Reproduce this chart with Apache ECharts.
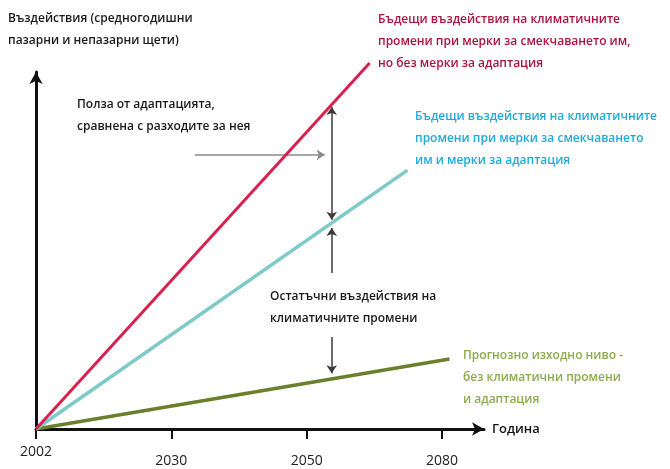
<!DOCTYPE html>
<html>
<head>
<meta charset="utf-8">
<script src="https://cdn.jsdelivr.net/npm/echarts@6/dist/echarts.min.js"></script>
<style>
  html, body { margin: 0; padding: 0; background: #fff; }
  #chart { width: 670px; height: 469px; }
</style>
</head>
<body>
<div id="chart"></div>
<script>
// ticks are equally spaced on the picture, so x is the tick index
var tickPos = [0, 1, 2, 3];
var tickYears = ['2002', '2030', '2050', '2080'];

// lines from the origin (x in tick steps, y in relative units 0..100)
var noAdaptation = [[0, 0], [2.465, 102.5]];
var withAdaptation = [[0, 0], [2.745, 72.5]];
var baseline = [[0, 0], [3.055, 19.6]];

// annotation arrows: [x1, y1, x2, y2]
var benefitArrow = [2.185, 58.6, 2.185, 90.2];
var residualUp = [2.185, 43.7, 2.185, 56.3];
var residualDown = [2.185, 25.8, 2.185, 15.6];
var pointerArrow = [1.173, 76.8, 2.133, 76.8];

var font = '"Open Sans", sans-serif';

function arrow(a, color, both) {
  return [
    { coord: [a[0], a[1]], symbol: both ? 'arrow' : 'none', lineStyle: { color: color, width: 1.5, type: 'solid' } },
    { coord: [a[2], a[3]], symbol: 'arrow' }
  ];
}

function txt(left, top, text, color) {
  return {
    type: 'text', left: left, top: top,
    style: { text: text, fill: color, font: '600 12px ' + font, lineHeight: 22 }
  };
}

var chart = echarts.init(document.getElementById('chart'));
chart.setOption({
  animation: false,
  grid: { left: 36, top: 72, right: 186, bottom: 40 },
  xAxis: {
    type: 'value', min: 0, max: 3.31,
    name: 'Година', nameLocation: 'end', nameGap: 8,
    nameTextStyle: { color: '#111', fontFamily: font, fontSize: 13, fontWeight: 600, verticalAlign: 'middle' },
    axisLine: { lineStyle: { color: '#111', width: 3 }, symbol: ['none', 'arrow'], symbolSize: [10, 12] },
    axisTick: { show: true, customValues: tickPos, length: 10, lineStyle: { color: '#111', width: 2 } },
    axisLabel: {
      customValues: tickPos, margin: 15, color: '#222', fontFamily: font, fontSize: 14,
      formatter: function (v) {
        var i = tickPos.indexOf(v);
        if (i < 0) return '';
        return i === 0 ? '{a|' + tickYears[i] + '}' : '{b|' + tickYears[i] + '}';
      },
      rich: {
        a: { fontFamily: font, fontSize: 14, color: '#222', lineHeight: 16 },
        b: { fontFamily: font, fontSize: 14, color: '#222', lineHeight: 16, padding: [19, 0, 0, 0] }
      }
    },
    splitLine: { show: false }
  },
  yAxis: {
    type: 'value', min: 0, max: 100,
    axisLine: { show: true, lineStyle: { color: '#111', width: 3 }, symbol: ['none', 'arrow'], symbolSize: [10, 12] },
    axisTick: { show: false },
    axisLabel: { show: false },
    splitLine: { show: false }
  },
  series: [
    { type: 'line', data: baseline, symbol: 'none', clip: false, lineStyle: { color: '#6b7f2d', width: 3.5 }, z: 3 },
    { type: 'line', data: withAdaptation, symbol: 'none', clip: false, lineStyle: { color: '#7ecac8', width: 3.5 }, z: 4 },
    { type: 'line', data: noAdaptation, symbol: 'none', clip: false, lineStyle: { color: '#d9214f', width: 3 }, z: 5 },
    {
      type: 'line', data: [], z: 6,
      markLine: {
        silent: true, symbolSize: 8, label: { show: false },
        data: [
          arrow(benefitArrow, '#3a3a3a', true),
          arrow(residualUp, '#3a3a3a', false),
          arrow(residualDown, '#3a3a3a', false),
          arrow(pointerArrow, '#8a8a8a', false)
        ]
      }
    }
  ],
  graphic: [
    txt(8, 8, 'Въздействия (средногодишни\nпазарни и непазарни щети)', '#1a1a1a'),
    txt(378, 9, 'Бъдещи въздействия на климатичните\nпромени при мерки за смекчаването им,\nно без мерки за адаптация', '#ad1240'),
    txt(415, 106, 'Бъдещи въздействия на климатичните\nпромени при мерки за смекчаването\nим и мерки за адаптация', '#1eaadc'),
    txt(463, 345, 'Прогнозно изходно ниво -\nбез климатични промени\nи адаптация', '#8dab4c'),
    txt(77, 94, 'Полза от адаптацията,\nсравнена с разходите за нея', '#1a1a1a'),
    txt(270, 286, 'Остатъчни въздействия на\nклиматичните промени', '#1a1a1a')
  ]
});
</script>
</body>
</html>
